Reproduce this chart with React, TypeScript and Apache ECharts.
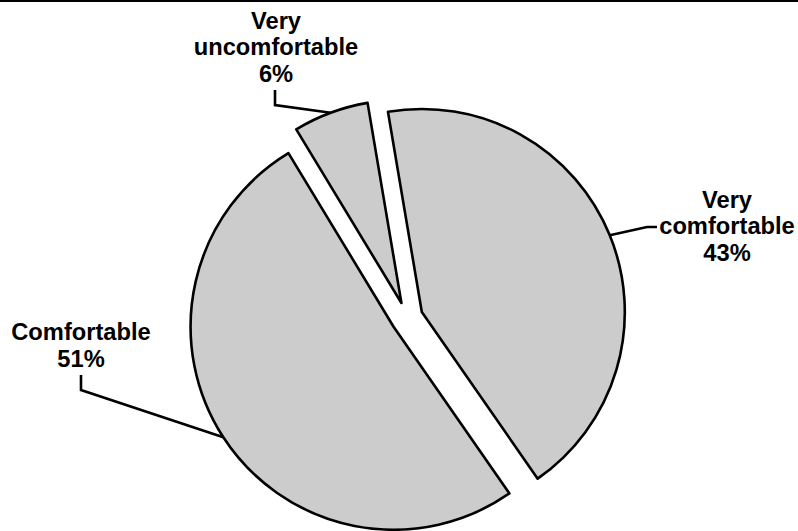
import { useEffect, useRef } from 'react';
import * as echarts from 'echarts';

// Survey answers and their shares (percent)
const categories = ['Very comfortable', 'Comfortable', 'Very uncomfortable'];
const shares = [43, 51, 6];

const WIDTH = 798;
const HEIGHT = 531;
const CENTER = [407, 318];
const RADIUS = 203;
const START_ANGLE = 99.6;
const EXPLODE = 16;
const FONT_SIZE = 23.7;
const LINE_HEIGHT = 26.5;
const STROKE = 2.6;

// Where each label box sits and how its leader line is routed
// (route points are offsets from the label's anchor point).
const labelPlaces = [
  { x: 727, y: 226, va: 'middle', route: [[-80, 1], [-70, 1]] },
  { x: 81, y: 372, va: 'bottom', route: [[0, 18], [0, 3]] },
  { x: 276, y: 87, va: 'bottom', route: [[-1, 18], [-1, 3]] },
];

// explode offset of a slice, pointing out along its middle angle
function sliceShift(i: number) {
  const total = shares.reduce((a, b) => a + b, 0);
  let acc = 0;
  for (let k = 0; k < i; k++) acc += shares[k];
  const mid = (-START_ANGLE * Math.PI) / 180 + ((acc + shares[i] / 2) / total) * Math.PI * 2;
  return [Math.cos(mid) * EXPLODE, Math.sin(mid) * EXPLODE];
}

// one pie layer per slice: every layer lays out all answers, but shows only its own
// slice, drawn from a centre pushed outwards so the pieces stand apart
function sliceLayer(i: number) {
  const [dx, dy] = sliceShift(i);
  return {
    type: 'pie',
    center: [CENTER[0] + dx, CENTER[1] + dy],
    radius: RADIUS,
    startAngle: START_ANGLE,
    clockwise: true,
    silent: true,
    avoidLabelOverlap: false,
    emphasis: { disabled: true },
    label: {
      position: 'outside',
      color: '#000000',
      fontFamily: 'Liberation Sans, Arial, sans-serif',
      fontWeight: 'bold',
      fontSize: FONT_SIZE,
      lineHeight: LINE_HEIGHT,
      align: 'center',
      formatter: (p: any) => `${String(p.name).replace(' ', '\n')}\n${p.value}%`,
    },
    labelLine: {
      length: 20,
      length2: 20,
      smooth: false,
      lineStyle: { color: '#000000', width: STROKE },
    },
    labelLayout: (p: any) => {
      if (p.dataIndex !== i || !p.labelLinePoints) return {};
      const place = labelPlaces[i];
      const a = p.labelLinePoints[0];
      const pts = [[a[0], a[1]]].concat(
        place.route.map(([ox, oy]) => [place.x + ox, place.y + oy])
      );
      return {
        x: place.x,
        y: place.y,
        align: 'center',
        verticalAlign: place.va,
        labelLinePoints: pts,
      };
    },
    data: categories.map((name, k) => {
      const own = k === i;
      return {
        name,
        value: shares[k],
        itemStyle: own
          ? { color: '#cccccc', borderColor: '#000000', borderWidth: STROKE }
          : { color: 'none', borderColor: 'none', borderWidth: 0 },
        label: { show: own },
        labelLine: { show: own },
      };
    }),
  };
}

export default function App() {
  const ref = useRef<HTMLDivElement>(null);

  useEffect(() => {
    if (!ref.current) return;
    const chart = echarts.init(ref.current, undefined, { renderer: 'svg' });

    chart.setOption({
      animation: false,
      backgroundColor: '#ffffff',
      graphic: [
        { type: 'rect', left: 0, top: 0, shape: { width: WIDTH, height: 2 }, style: { fill: '#000000' } },
      ],
      series: categories.map((_, i) => sliceLayer(i)),
    });

    return () => chart.dispose();
  }, []);

  return (
    <div
      ref={ref}
      style={{ position: 'fixed', left: 0, top: 0, width: WIDTH, height: HEIGHT, background: '#fff' }}
    />
  );
}
